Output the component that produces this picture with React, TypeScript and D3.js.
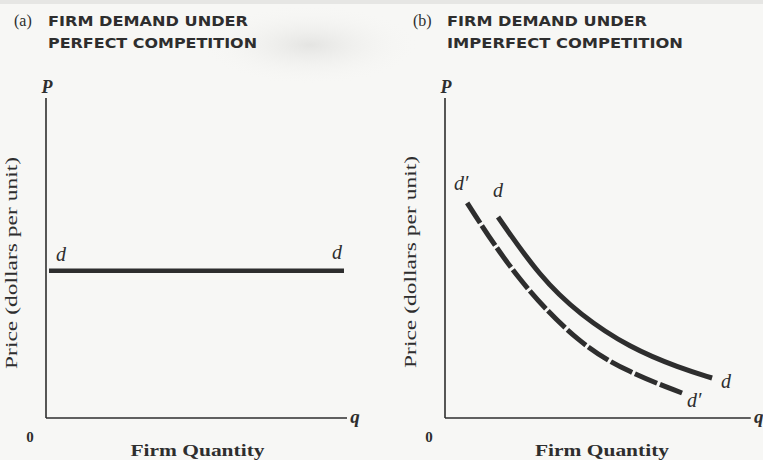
import React from "react";
import * as d3 from "d3";

const W = 763;
const H = 460;

// Panel titles
const panelLetters = ["(a)", "(b)"];
const titleLine1 = ["FIRM DEMAND UNDER", "FIRM DEMAND UNDER"];
const titleLine2 = ["PERFECT COMPETITION", "IMPERFECT COMPETITION"];

// Axis texts
const yAxisTitle = "Price (dollars per unit)";
const xAxisTitle = "Firm Quantity";
const yAxisSymbol = "P";
const xAxisSymbol = "q";
const originLabel = "0";

// Axis extents per panel (quantity units, 0..100)
const axisMaxQ = [100, 98];

// Panel (a): horizontal firm demand (quantity, price) in 0..100 units
const perfectQ = [1, 99];
const perfectP = [46, 46];

// Panel (b): downward-sloping demand d and shifted demand d'
const dQ = [17.0, 30.4, 43.3, 59.3, 75.3, 85.6];
const dP = [62.8, 44.1, 32.2, 21.9, 15.6, 12.5];
const dPrimeQ = [7.1, 23.1, 43.3, 59.3, 76.0];
const dPrimeP = [67.2, 43.1, 22.8, 14.1, 7.8];

type Pt = { q: number; p: number };
const zip = (qs: number[], ps: number[]): Pt[] => qs.map((q, i) => ({ q, p: ps[i] }));

const INK = "#2e2e2e";
const SERIF = "'Liberation Serif', 'DejaVu Serif', serif";
const SANS = "'DejaVu Sans', 'Noto Sans', sans-serif";

function Panel({ idx, x0, x1 }: { idx: number; x0: number; x1: number }) {
  const yTop = 98;
  const yBot = 418;
  const xs = d3.scaleLinear().domain([0, 100]).range([x0, x1]);
  const ys = d3.scaleLinear().domain([0, 100]).range([yBot, yTop]);
  const tx = x0 - 29;
  const xEnd = xs(axisMaxQ[idx]);
  return (
    <g>
      {/* titles */}
      <text x={x0 - 32} y={26} fontFamily={SERIF} fontSize={16} fill={INK}>
        {panelLetters[idx]}
      </text>
      <text
        x={x0 + 2}
        y={26}
        fontFamily={SANS}
        fontWeight="bold"
        fontSize={13.5}
        fill={INK}
        textLength={200}
        lengthAdjust="spacingAndGlyphs"
      >
        {titleLine1[idx]}
      </text>
      <text
        x={x0 + 2}
        y={48}
        fontFamily={SANS}
        fontWeight="bold"
        fontSize={13.5}
        fill={INK}
        textLength={idx === 0 ? 209 : 236}
        lengthAdjust="spacingAndGlyphs"
      >
        {titleLine2[idx]}
      </text>

      {/* axes */}
      <line x1={xs(0)} y1={ys(100)} x2={xs(0)} y2={ys(0)} stroke={INK} strokeWidth={1.6} />
      <line x1={xs(0)} y1={ys(0)} x2={xEnd} y2={ys(0)} stroke={INK} strokeWidth={1.6} />
      <text x={xs(0) + 1} y={ys(100) - 5} fontFamily={SERIF} fontStyle="italic" fontWeight="bold" fontSize={18} fill={INK} textAnchor="middle">
        {yAxisSymbol}
      </text>
      <text x={xEnd + 8} y={ys(0) + 5} fontFamily={SERIF} fontStyle="italic" fontWeight="bold" fontSize={19} fill={INK} textAnchor="middle">
        {xAxisSymbol}
      </text>
      <text x={xs(0) - 16} y={ys(0) + 24} fontFamily={SERIF} fontWeight="bold" fontSize={15} fill={INK} textAnchor="middle">
        {originLabel}
      </text>
      <text
        x={(xs(0) + xs(100)) / 2 + 1}
        y={456}
        fontFamily={SERIF}
        fontWeight="bold"
        fontSize={17}
        fill={INK}
        textAnchor="middle"
        textLength={134}
        lengthAdjust="spacingAndGlyphs"
      >
        {xAxisTitle}
      </text>
      <text
        transform={`translate(${tx},${idx === 0 ? 263 : 262}) rotate(-90)`}
        fontFamily={SERIF}
        fontSize={16.5}
        fill={INK}
        textAnchor="middle"
        textLength={212}
        lengthAdjust="spacingAndGlyphs"
      >
        {yAxisTitle}
      </text>
    </g>
  );
}

export default function App() {
  const xsA = d3.scaleLinear().domain([0, 100]).range([46, 347]);
  const xsB = d3.scaleLinear().domain([0, 100]).range([445, 757]);
  const ys = d3.scaleLinear().domain([0, 100]).range([418, 98]);
  const line = (xs: d3.ScaleLinear<number, number>) =>
    d3
      .line<Pt>()
      .x((d) => xs(d.q))
      .y((d) => ys(d.p))
      .curve(d3.curveBasis);
  const perfect = zip(perfectQ, perfectP);
  const dCurve = zip(dQ, dP);
  const dPrime = zip(dPrimeQ, dPrimeP);
  const lab = (x: number, y: number, s: string, key: string) => (
    <text key={key} x={x} y={y} fontFamily={SERIF} fontStyle="italic" fontSize={20} fill={INK} textAnchor="middle">
      {s}
    </text>
  );
  return (
    <svg width={W} height={H} style={{ position: "absolute", left: 0, top: 0, background: "#f7f7f5" }}>
      <defs>
        <radialGradient id="smudge" cx="0.5" cy="0.5" r="0.5">
          <stop offset="0" stopColor="#e2e2e0" stopOpacity={0.9} />
          <stop offset="1" stopColor="#f7f7f5" stopOpacity={0} />
        </radialGradient>
      </defs>
      <rect x={0} y={0} width={W} height={H} fill="#f7f7f5" />
      <ellipse cx={310} cy={45} rx={110} ry={40} fill="url(#smudge)" />
      <rect x={0} y={0} width={W} height={4} fill="#e6e6e4" />
      <Panel idx={0} x0={46} x1={347} />
      <Panel idx={1} x0={445} x1={757} />

      {/* panel (a) demand */}
      <path d={line(xsA)(perfect) || ""} fill="none" stroke={INK} strokeWidth={4.5} />
      {lab(xsA(perfectQ[0]) + 12, 261, "d", "da1")}
      {lab(xsA(perfectQ[1]) - 7, 259, "d", "da2")}

      {/* panel (b) demand curves */}
      <path d={line(xsB)(dCurve) || ""} fill="none" stroke={INK} strokeWidth={5} />
      <path
        d={line(xsB)(dPrime) || ""}
        fill="none"
        stroke={INK}
        strokeWidth={5}
        strokeDasharray="24,3"
      />
      {lab(xsB(dQ[0]), ys(dP[0]) - 20, "d", "db1")}
      {lab(xsB(dQ[dQ.length - 1]) + 14, ys(dP[dP.length - 1]) + 10, "d", "db2")}
      {lab(xsB(dPrimeQ[0]) - 6, ys(dPrimeP[0]) - 13, "d′", "dpb1")}
      {lab(xsB(dPrimeQ[dPrimeQ.length - 1]) + 12, ys(dPrimeP[dPrimeP.length - 1]) + 14, "d′", "dpb2")}
    </svg>
  );
}
